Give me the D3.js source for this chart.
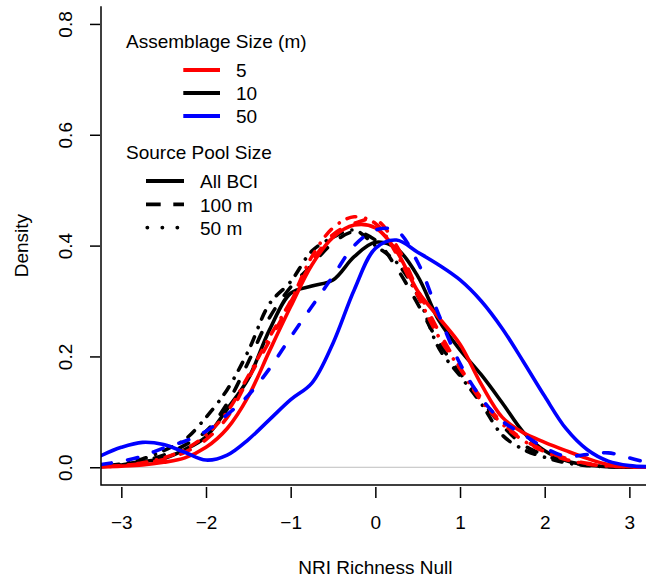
<!DOCTYPE html>
<html>
<head>
<meta charset="utf-8">
<script src="https://cdn.jsdelivr.net/npm/d3@7"></script>
<style>
  html, body { margin: 0; padding: 0; background: #fff; }
  svg { display: block; }
  text { font-family: "Liberation Sans", Arial, Helvetica, sans-serif; font-size: 19px; fill: #000; }
</style>
</head>
<body>
<div id="chart"></div>
<script>
/* Density curves of NRI (richness null) */
var xGrid = [-3.24, -3, -2.75, -2.5, -2.25, -2, -1.75, -1.5, -1.25, -1, -0.75, -0.5, -0.25,
  0, 0.25, 0.5, 0.75, 1, 1.25, 1.5, 1.75, 2, 2.25, 2.5, 2.75, 3, 3.24];

/* assemblage 10 m */
var black10All = [0.001, 0.004, 0.010, 0.016, 0.032, 0.055, 0.105, 0.160, 0.248, 0.314, 0.327, 0.338, 0.380,
  0.406, 0.395, 0.345, 0.265, 0.212, 0.167, 0.116, 0.063, 0.030, 0.012, 0.004, 0.001, 0.000, 0.000];
var black10Pool100 = [0.002, 0.005, 0.011, 0.022, 0.040, 0.065, 0.115, 0.190, 0.270, 0.325, 0.365, 0.405, 0.425,
  0.410, 0.360, 0.295, 0.225, 0.170, 0.120, 0.075, 0.040, 0.022, 0.010, 0.004, 0.002, 0.001, 0.000];
var black10Pool50 = [0.002, 0.006, 0.015, 0.030, 0.050, 0.090, 0.140, 0.210, 0.295, 0.335, 0.390, 0.415, 0.428,
  0.400, 0.370, 0.310, 0.215, 0.165, 0.115, 0.058, 0.032, 0.018, 0.008, 0.003, 0.001, 0.000, 0.000];

/* assemblage 5 m */
var red5All = [0.001, 0.002, 0.004, 0.009, 0.017, 0.036, 0.070, 0.128, 0.210, 0.290, 0.365, 0.415, 0.437,
  0.432, 0.390, 0.318, 0.270, 0.222, 0.150, 0.090, 0.062, 0.045, 0.030, 0.016, 0.005, 0.001, 0.000];
var red5Pool100 = [0.001, 0.003, 0.007, 0.014, 0.027, 0.050, 0.090, 0.160, 0.228, 0.298, 0.370, 0.420, 0.440,
  0.447, 0.400, 0.320, 0.245, 0.180, 0.125, 0.080, 0.050, 0.030, 0.016, 0.007, 0.003, 0.001, 0.000];
var red5Pool50 = [0.001, 0.003, 0.008, 0.017, 0.032, 0.058, 0.100, 0.165, 0.235, 0.300, 0.380, 0.432, 0.452,
  0.440, 0.385, 0.310, 0.235, 0.178, 0.120, 0.078, 0.048, 0.028, 0.014, 0.006, 0.002, 0.001, 0.000];

/* assemblage 50 m */
var blue50All = [0.021, 0.036, 0.045, 0.041, 0.027, 0.013, 0.022, 0.050, 0.086, 0.122, 0.152, 0.224, 0.320,
  0.395, 0.410, 0.388, 0.365, 0.338, 0.300, 0.250, 0.190, 0.128, 0.070, 0.032, 0.011, 0.003, 0.001];
var blue50Pool100 = [0.005, 0.011, 0.020, 0.035, 0.047, 0.065, 0.095, 0.130, 0.178, 0.235, 0.290, 0.345, 0.400,
  0.428, 0.427, 0.370, 0.275, 0.187, 0.125, 0.083, 0.059, 0.035, 0.020, 0.023, 0.026, 0.017, 0.007];

var xTicks = [-3, -2, -1, 0, 1, 2, 3];
var yTicks = [0, 0.2, 0.4, 0.6, 0.8];
var sizeLabels = ['5', '10', '50'];
var poolLabels = ['All BCI', '100 m', '50 m'];

/* styles */
var sizeColors = { '5': '#ff0000', '10': '#000000', '50': '#0000ff' };
var poolDash = { 'All BCI': null, '100 m': '10.5,16.5', '50 m': '0.1,8.9,9,10' };

var series = [
  { size: '10', pool: 'All BCI', values: black10All },
  { size: '10', pool: '100 m', values: black10Pool100 },
  { size: '10', pool: '50 m', values: black10Pool50 },
  { size: '5', pool: 'All BCI', values: red5All },
  { size: '5', pool: '100 m', values: red5Pool100 },
  { size: '5', pool: '50 m', values: red5Pool50 },
  { size: '50', pool: 'All BCI', values: blue50All },
  { size: '50', pool: '100 m', values: blue50Pool100 }
];

var W = 646, H = 580;
var plot = { left: 101, right: 649.7, top: 6.2, bottom: 485 };

var x = d3.scaleLinear().domain([-3.24, 3.24]).range([plot.left, plot.right]);
var y = d3.scaleLinear().domain([-0.032, 0.832]).range([plot.bottom, plot.top]);

var svg = d3.select('#chart').append('svg')
  .attr('width', W)
  .attr('height', H);

svg.append('defs').append('clipPath').attr('id', 'plot-clip')
  .append('rect')
  .attr('x', plot.left).attr('y', plot.top)
  .attr('width', plot.right - plot.left).attr('height', plot.bottom - plot.top);

/* zero reference line */
svg.append('line')
  .attr('x1', plot.left).attr('x2', plot.right)
  .attr('y1', y(0)).attr('y2', y(0))
  .attr('stroke', '#bebebe')
  .attr('stroke-width', 1);

/* curves */
var line = d3.line()
  .x(function (d) { return x(d[0]); })
  .y(function (d) { return y(d[1]); })
  .curve(d3.curveCatmullRom.alpha(0.5));

svg.append('g')
  .attr('clip-path', 'url(#plot-clip)')
  .selectAll('path')
  .data(series)
  .join('path')
  .attr('d', function (s) { return line(xGrid.map(function (v, i) { return [v, s.values[i]]; })); })
  .attr('fill', 'none')
  .attr('stroke', function (s) { return sizeColors[s.size]; })
  .attr('stroke-width', 3.6)
  .attr('stroke-linecap', 'round')
  .attr('stroke-linejoin', 'round')
  .attr('stroke-dasharray', function (s) { return poolDash[s.pool]; });

/* L-shaped box */
svg.append('path')
  .attr('d', 'M' + plot.left + ',' + plot.top + 'V' + plot.bottom + 'H' + W)
  .attr('fill', 'none')
  .attr('stroke', '#000')
  .attr('stroke-width', 1.5);

/* axes */
var xAxis = svg.append('g')
  .attr('transform', 'translate(0,487)')
  .call(d3.axisBottom(x).tickValues(xTicks).tickSize(11).tickSizeOuter(0)
    .tickFormat(function (d) { return d < 0 ? '\u2212' + Math.abs(d) : String(d); }));
xAxis.select('.domain').remove();
xAxis.selectAll('.tick line').attr('stroke', '#000').attr('stroke-width', 1.5);
xAxis.selectAll('.tick text')
  .attr('y', 42.3).attr('dy', null)
  .attr('font-size', null).attr('font-family', null)
  .style('fill', '#000');

var yAxis = svg.append('g')
  .attr('transform', 'translate(100,0)')
  .call(d3.axisLeft(y).tickValues(yTicks).tickSize(10).tickSizeOuter(0)
    .tickFormat(d3.format('.1f')));
yAxis.select('.domain').remove();
yAxis.selectAll('.tick line').attr('stroke', '#000').attr('stroke-width', 1.5);
yAxis.selectAll('.tick text')
  .attr('x', null).attr('dy', null)
  .attr('font-size', null).attr('font-family', null)
  .attr('text-anchor', 'middle')
  .attr('transform', 'translate(-28.3,0) rotate(-90)')
  .style('fill', '#000');

/* axis titles */
svg.append('text')
  .attr('x', (plot.left + plot.right) / 2)
  .attr('y', 573.6)
  .attr('text-anchor', 'middle')
  .text('NRI Richness Null');

svg.append('text')
  .attr('transform', 'translate(28.3,' + ((plot.top + plot.bottom) / 2) + ') rotate(-90)')
  .attr('text-anchor', 'middle')
  .text('Density');

/* legend: assemblage size */
var leg = svg.append('g');
leg.append('text').attr('x', 126).attr('y', 47.7).text('Assemblage Size (m)');

sizeLabels.forEach(function (lab, i) {
  var ly = 70 + i * 23;
  leg.append('line')
    .attr('x1', 183.3).attr('x2', 220)
    .attr('y1', ly).attr('y2', ly)
    .attr('stroke', sizeColors[lab])
    .attr('stroke-width', 3.8);
  leg.append('text').attr('x', 236).attr('y', ly + 7.4).text(lab);
});

/* legend: source pool size */
leg.append('text').attr('x', 126).attr('y', 159.3).text('Source Pool Size');

var legendDash = { 'All BCI': null, '100 m': '14.7,12.6', '50 m': '0.1,14.9' };
poolLabels.forEach(function (lab, i) {
  var ly = 181 + i * 23.3;
  var dotted = lab === '50 m';
  leg.append('line')
    .attr('x1', dotted ? 147.3 : 146).attr('x2', dotted ? 180 : 184)
    .attr('y1', ly).attr('y2', ly)
    .attr('stroke', '#000')
    .attr('stroke-width', 3.8)
    .attr('stroke-linecap', dotted ? 'round' : 'butt')
    .attr('stroke-dasharray', legendDash[lab]);
  leg.append('text').attr('x', 200).attr('y', ly + 7.3).text(lab);
});
</script>
</body>
</html>
